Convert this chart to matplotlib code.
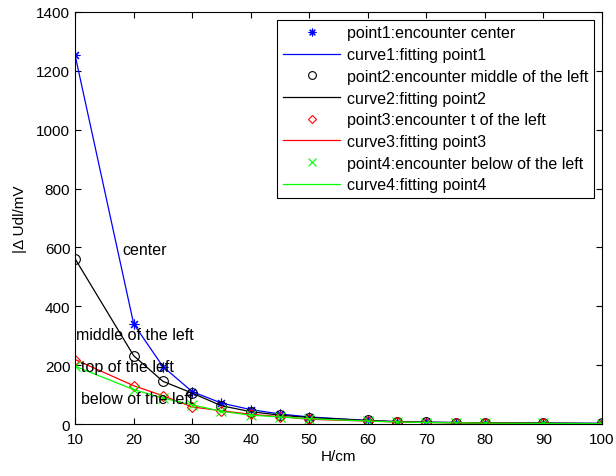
import matplotlib
matplotlib.use('Agg')
import matplotlib.pyplot as plt

plt.rcParams['font.family'] = ['Liberation Sans', 'DejaVu Sans']

H = [10, 20, 25, 30, 35, 40, 45, 50, 60, 65, 70, 75, 80, 90, 100]

# |dU| in mV for each encounter position
point1 = [1252, 340, 195, 110, 71, 49, 34, 24, 12, 8, 6, 5, 4, 3, 2]
point2 = [561, 232, 145, 105, 62, 42, 30, 22, 12, 8, 6, 5, 4, 3, 2]
point3 = [219, 130, 96, 58, 45, 33, 25, 16, 10, 7, 5, 4, 3, 2, 1]
point4 = [196, 117, 88, 65, 43, 30, 24, 18, 10, 7, 5, 4, 3, 2, 1]

LABELS = [
    ('point1:encounter center', 'curve1:fitting point1'),
    ('point2:encounter middle of the left', 'curve2:fitting point2'),
    ('point3:encounter t of the left', 'curve3:fitting point3'),
    ('point4:encounter below of the left', 'curve4:fitting point4'),
]
COLORS = ['#0000ff', '#000000', '#ff0000', '#00ff00']
MARKERS = [(8, 2, 0), 'o', 'D', 'x']

# annotation texts: (x, y, text)
NOTES = [(18, 592, 'center'),
         (10.2, 304, 'middle of the left'),
         (11, 194, 'top of the left'),
         (11, 85, 'below of the left')]

fig = plt.figure(figsize=(6.16, 4.77), dpi=100)
ax = fig.add_axes([0.122, 0.109, 0.855, 0.864])

for ys, (lp, lc), c, m in zip([point1, point2, point3, point4], LABELS, COLORS, MARKERS):
    ms = 5 if m == 'D' else 7
    ax.plot(H, ys, linestyle='none', marker=m, color=c, markerfacecolor='none',
            markersize=ms, markeredgewidth=0.8, label=lp)
    ax.plot(H, ys, color=c, linewidth=0.9, label=lc)

for x, y, t in NOTES:
    ax.text(x, y, t, fontsize=11.5, va='center', ha='left')

ax.set_xlim(10, 100)
ax.set_ylim(0, 1400)
ax.set_xticks(range(10, 101, 10))
ax.set_yticks(range(0, 1401, 200))
ax.tick_params(direction='in', top=True, right=True, labelsize=11, length=4)
ax.tick_params(axis='x', pad=6)
ax.set_xlabel('H/cm', fontsize=11, labelpad=2)
ax.set_ylabel('|Δ Udl/mV', fontsize=11, labelpad=7)

leg = ax.legend(loc='upper right', fontsize=11.5, handlelength=3.6, labelspacing=0.42,
                borderaxespad=0.5, fancybox=False, edgecolor='black',
                framealpha=1, borderpad=0.35, handletextpad=0.4, markerscale=0.8)
leg.get_frame().set_linewidth(0.8)

fig.savefig('out.png', dpi=100)
